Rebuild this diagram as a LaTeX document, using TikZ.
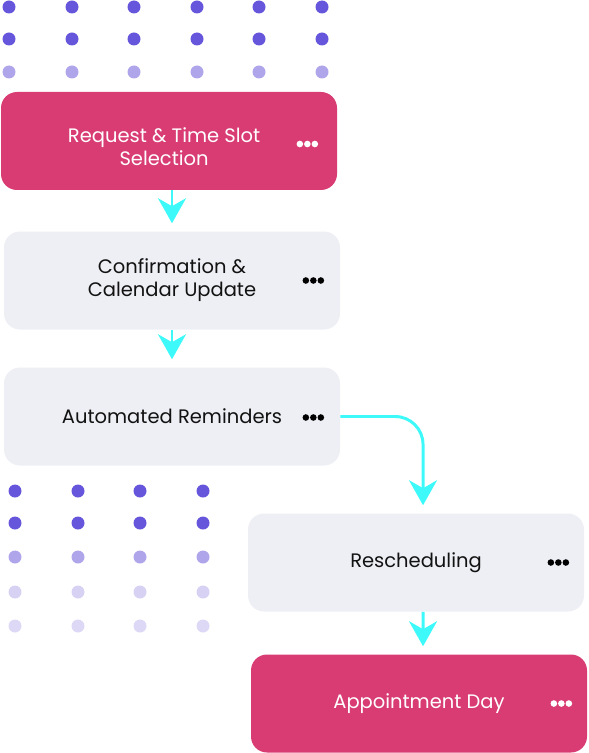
\documentclass[tikz,border=0pt]{standalone}
\usepackage{fontspec}
\setmainfont{Poppins}
\usetikzlibrary{calc,arrows.meta}
\newdimen\pxl \pxl=0.02cm
\definecolor{stagepink}{HTML}{D83C73}
\definecolor{stagegray}{HTML}{EEEFF4}
\definecolor{flowcyan}{HTML}{3DF9FA}
\definecolor{dotdark}{HTML}{6556DC}
\definecolor{dotmid}{HTML}{AFA5EB}
\definecolor{dotlight}{HTML}{D7D2F4}
\definecolor{dotpale}{HTML}{DCD8F5}
\def\menudots(#1:#2:#3)[#4]{\fill[#4] ($(#1.east)+(-#2-7.5,#3)$) circle (3.3\pxl) ($(#1.east)+(-#2,#3)$) circle (3.3\pxl) ($(#1.east)+(-#2+7.5,#3)$) circle (3.3\pxl);}
\tikzset{
	stage/.style={rectangle, rounded corners=16\pxl, minimum width=336\pxl, minimum height=98\pxl, inner sep=0pt, align=center, font=\fontsize{11.1}{13}\selectfont},
	pinkstage/.style={stage, fill=stagepink, text=white},
	graystage/.style={stage, fill=stagegray, text=black!93},
	flow/.style={draw=flowcyan, line width=1.7pt, -{Stealth[length=14.2pt, width=15.9pt, inset=4.5pt]}, shorten >=4.5pt},
}

\begin{document}
\begin{tikzpicture}[x=0.02cm, y=-0.02cm]
			%%%%% START %%%%%
			\useasboundingbox (0, 0) rectangle (588, 753);
			
			\fill[dotdark] (9, 7) circle (6.5\pxl) (72, 7) circle (6.5\pxl) (134, 7) circle (6.5\pxl) (197, 7) circle (6.5\pxl) (259, 7) circle (6.5\pxl) (322, 7) circle (6.5\pxl);
			\fill[dotdark] (9, 39) circle (6.5\pxl) (72, 39) circle (6.5\pxl) (134, 39) circle (6.5\pxl) (197, 39) circle (6.5\pxl) (259, 39) circle (6.5\pxl) (322, 39) circle (6.5\pxl);
			\fill[dotmid] (9, 72) circle (6.5\pxl) (72, 72) circle (6.5\pxl) (134, 72) circle (6.5\pxl) (197, 72) circle (6.5\pxl) (259, 72) circle (6.5\pxl) (322, 72) circle (6.5\pxl);
			
			\node[pinkstage, label={[text=white, align=center, font=\fontsize{11.1}{13}\selectfont, xshift=-2.8pt, yshift=-3.2pt]center:Request \& Time Slot\\Selection}] (request) at (169, 141) {};
			\menudots(request:30:3)[white]
			
			\node[graystage] (confirm) at (172, 280.5) {Confirmation \&\\Calendar Update};
			\menudots(confirm:27:0)[black]
			
			\node[graystage] (remind) at (172, 416.5) {Automated Reminders};
			\menudots(remind:27:1)[black]
			
			\node[graystage] (resched) at (416, 562.5) {Rescheduling};
			\menudots(resched:26:0)[black]
			
			\node[pinkstage] (appday) at (419, 703.5) {Appointment Day};
			\menudots(appday:26:0)[white]
			
			\draw[flow] (request.south -| confirm.north) -- (confirm.north);
			\draw[flow] (confirm.south) -- (remind.north);
			\draw[flow, rounded corners=15.9pt] (remind.east) -| ([xshift=4pt]resched.north);
			\draw[flow] ([xshift=4pt]resched.south) -- ([xshift=2.3pt]appday.north);
			
			\fill[dotdark] (15, 491) circle (6.5\pxl) (78, 491) circle (6.5\pxl) (140, 491) circle (6.5\pxl) (203, 491) circle (6.5\pxl);
			\fill[dotdark] (15, 523) circle (6.5\pxl) (78, 523) circle (6.5\pxl) (140, 523) circle (6.5\pxl) (203, 523) circle (6.5\pxl);
			\fill[dotmid] (15, 557) circle (6.5\pxl) (78, 557) circle (6.5\pxl) (140, 557) circle (6.5\pxl) (203, 557) circle (6.5\pxl);
			\fill[dotlight] (15, 592) circle (6.5\pxl) (78, 592) circle (6.5\pxl) (140, 592) circle (6.5\pxl) (203, 592) circle (6.5\pxl);
			\fill[dotpale] (15, 626) circle (6.5\pxl) (78, 626) circle (6.5\pxl) (140, 626) circle (6.5\pxl) (203, 626) circle (6.5\pxl);
			
			%%%%% END %%%%%
\end{tikzpicture}
\end{document}
